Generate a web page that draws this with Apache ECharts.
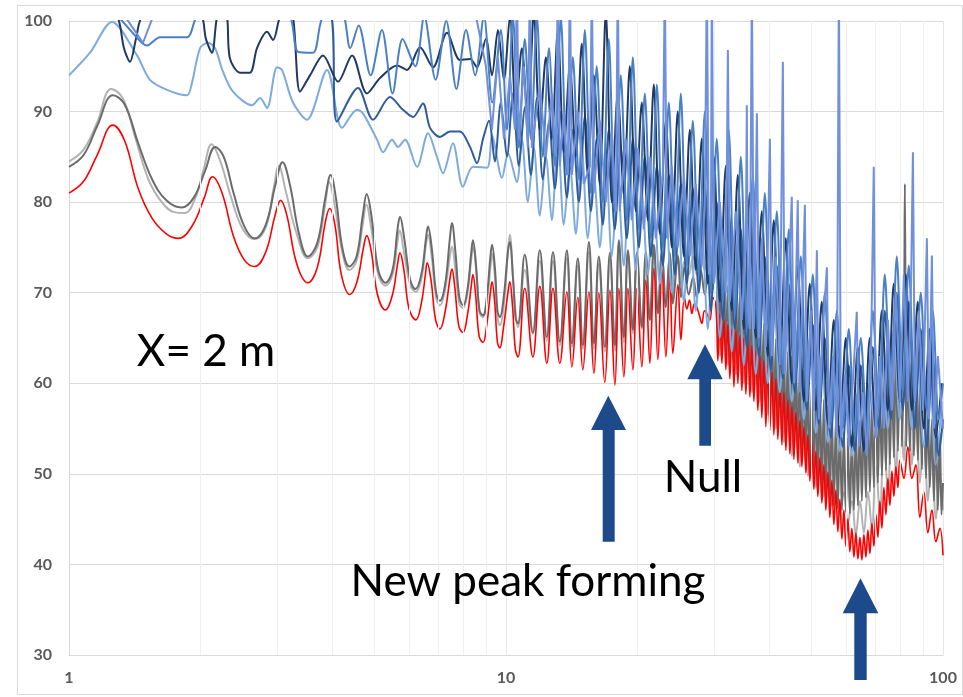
<!DOCTYPE html>
<html><head><meta charset="utf-8">
<script src="https://cdn.jsdelivr.net/npm/echarts@6/dist/echarts.min.js"></script>
<style>html,body{margin:0;padding:0;background:#fff}#c{width:963px;height:697px}</style>
</head><body><div id="c"></div>
<script>
const yTicks = [30, 40, 50, 60, 70, 80, 90, 100];
const xMinorGrid = [2,3,4,5,6,7,8,9,20,30,40,50,60,70,80,90];

const redLine = [
[1.00,81.0],[1.08,82.3],[1.16,85.2],[1.26,88.5],[1.34,86.8],[1.44,81.5],[1.55,78.2],[1.67,76.5],[1.78,76.0],[1.92,77.5],[2.04,80.5],[2.13,82.8],[2.24,81.0],[2.38,76.2],[2.52,73.6],[2.66,72.9],[2.82,74.5],[2.96,78.5],[3.05,80.2],[3.15,78.6],[3.32,73.2],[3.52,71.1],[3.70,72.8],[3.86,77.8],[3.95,79.3],[4.06,77.5],[4.20,72.0],[4.39,69.8],[4.56,71.2],[4.72,75.0],[4.80,76.3],[4.92,74.5],[5.08,69.8],[5.30,68.1],[5.50,69.8],[5.64,73.0],[5.72,74.4],[5.84,72.5],[6.00,68.2],[6.22,67.0],[6.40,68.8],[6.54,72.0],[6.60,73.3],[6.74,71.3],[6.90,67.0],[7.06,66.0],[7.25,67.8],[7.44,71.5],[7.52,72.6],[7.64,70.5],[7.80,66.3],[7.97,65.6],[8.16,67.5],[8.33,70.8],[8.40,72.0],[8.52,69.8],[8.68,65.2],[8.86,64.5],[9.04,66.5],[9.21,70.0],[9.29,71.2],[9.42,69.0],[9.56,64.5],[9.68,63.9],[9.86,66.0],[10.10,70.0],[10.20,71.2],[10.35,68.5],[10.50,63.8],[10.65,62.9],
[11.04,70.5],[11.52,62.9],[11.95,70.7],[12.40,62.2],[12.81,70.5],[13.28,62.2],[13.78,70.1],[14.15,61.8],[14.60,69.5],[14.99,61.5],[15.48,70.1],[15.89,61.1],[16.31,70.0],[16.83,60.1],[17.29,70.3],[17.75,59.8],[18.13,70.5],[18.61,60.7],[19.01,70.5],[19.52,61.5],[19.93,70.5],[20.46,61.8],[20.89,71.4],[21.34,62.2],[21.80,72.7],[22.26,62.6],[22.74,72.5],[23.22,62.9],[23.71,71.9],[24.09,63.3],[24.74,70.9],[25.13,64.8],[25.60,69.5],[25.93,68.2],[26.30,69.2],[26.63,67.7],[27.00,68.8],[27.34,68.4],[27.70,67.5],[28.07,66.6],[28.45,68.0],[28.82,67.7],[29.28,67.0],[29.75,69.5],
[30.22,68.5],[30.54,62.5],[30.86,67.7],[31.19,62.2],[31.52,67],[31.85,61.5],[32.19,66.5],[32.53,60.5],[32.88,66],[33.23,59.6],[33.58,65.9],[33.93,60],[34.29,65.3],[34.65,59.2],[35.02,65],[35.39,58.8],[35.77,64.8],[36.15,58.5],[36.53,64.2],[36.92,58],[37.31,63.6],[37.70,57],[38.10,63],[38.50,56.2],[38.91,62.5],[39.32,55.2],[39.74,62],[40.16,54.8],[40.59,61.2],[41.02,54.3],[41.45,60.5],[41.89,53.8],[42.34,59.8],[42.79,53.2],[43.24,59],[43.70,52.6],[44.16,58.2],[44.63,52.2],[45.10,57.5],[45.58,51.6],[46.06,56.8],[46.55,51.2],[47.04,55.9],[47.54,50.8],[48.04,55.2],[48.55,50.1],[49.07,54.3],[49.59,49.2],[50.11,53.5],[50.64,48.3],[51.18,52.5],[51.72,47.5],[52.27,51.8],[52.82,46.8],[53.38,51],[53.95,46],[54.52,50.2],[55.10,45.2],[55.68,49.3],[56.27,44.4],[56.87,48.2],[57.47,43.6],[58.08,47.2],[58.70,42.8],[59.32,46],[59.95,42],[60.58,45],[61.22,41.4],[61.87,44],[62.53,40.8],[63.19,43.5],[63.86,40.6],[64.54,43],[65.22,40.5],[65.91,43.3],[66.61,40.8],[67.32,43.8],[68.03,41.2],[68.75,44.5],[69.48,42],[70.21,45.5],[70.96,43],[71.71,47],[72.47,44],[73.24,48.5],[74.02,45.5],[74.80,49.5],[75.59,46.5],[76.39,50.3],[77.20,47.5],[78.02,50.8],[78.85,48.5],[79.68,51.5],
[81.38,49.5],[83.11,53],[84.88,49.5],[86.69,51],[88.54,45.2],[90.42,48],[92.35,43.5],[94.32,46],[96.32,42.5],[98.38,44],[100,41]
];

const grayDark = [
[1.00,83.9],[1.08,85.2],[1.16,88.4],[1.26,91.8],[1.34,90.8],[1.44,86.5],[1.55,82.5],[1.67,80.2],[1.81,79.4],[1.93,80.5],[2.05,83.5],[2.16,86.1],[2.26,85.0],[2.38,81.0],[2.52,77.3],[2.66,76.0],[2.82,77.5],[2.97,82.0],[3.08,84.4],[3.20,82.0],[3.36,76.5],[3.52,74.0],[3.70,75.5],[3.86,80.5],[3.97,83.0],[4.08,80.5],[4.22,75.0],[4.38,72.9],[4.55,74.0],[4.70,78.5],[4.80,80.9],[4.92,78.5],[5.10,72.5],[5.30,71.1],[5.50,72.5],[5.64,76.8],[5.72,78.4],[5.85,76.0],[6.03,71.5],[6.20,70.4],[6.40,72.0],[6.56,76.0],[6.63,77.3],[6.76,75.0],[6.92,70.0],[7.05,69.1],[7.25,70.8],[7.44,76.0],[7.52,77.7],[7.66,74.5],[7.82,69.5],[7.98,68.6],[8.16,70.3],[8.33,74.5],[8.40,75.8],[8.54,73.0],[8.70,68.0],[8.86,67.5],[9.04,69.5],[9.21,74.0],[9.29,75.3],[9.44,72.5],[9.56,68.0],[9.68,67.3],[9.88,69.5],[10.10,74.5],[10.20,75.6],[10.38,71.5],[10.52,67.2],[10.65,66.6],
[11.04,74.2],[11.52,65.6],[11.95,74.7],[12.40,65.1],[12.81,74.5],[13.28,64.6],[13.78,74.7],[14.15,64.4],[14.60,73.8],[14.99,64.2],[15.48,75.6],[15.89,64.4],[16.31,74.0],[16.83,64.0],[17.29,74.4],[17.75,64.2],[18.13,75.8],[18.61,65.1],[19.01,74.7],[19.52,65.9],[19.93,74.4],[20.46,66.2],[20.89,74.5],[21.34,67.0],[21.80,75.3],[22.26,67.7],[22.74,74.5],[23.22,68.4],[23.71,74.4],[24.09,68.8],[24.74,74.0],[25.13,69.5],[25.60,72.8],[26.20,69.8],[26.80,71.7],[27.30,69.5],[27.90,72.5],[28.50,69.8],[29.10,73.3],[29.60,70.0],
[30.22,73.5],[30.54,65],[30.86,71.4],[31.19,64],[31.52,71],[31.85,63.5],[32.19,70.8],[32.53,62.8],[32.88,70.6],[33.23,62.2],[33.58,70.4],[33.93,61.8],[34.29,70],[34.65,61.5],[35.02,69.8],[35.39,61],[35.77,69.5],[36.15,60.4],[36.53,69],[36.92,59.8],[37.31,68.2],[37.70,59],[38.10,67.5],[38.50,58.2],[38.91,66.6],[39.32,57.2],[39.74,65.9],[40.16,56.5],[40.59,65.4],[41.02,55.8],[41.45,64.9],[41.89,55],[42.34,64.5],[42.79,54.2],[43.24,64],[43.70,53.5],[44.16,63.5],[44.63,53],[45.10,63],[45.58,52.4],[46.06,62.6],[46.55,51.8],[47.04,62.2],[47.54,51.2],[48.04,61.5],[48.55,50.5],[49.07,60.8],[49.59,49.8],[50.11,60.2],[50.64,49.2],[51.18,59.5],[51.72,48.5],[52.27,58.8],[52.82,48],[53.38,58.2],[53.95,47.5],[54.52,57.5],[55.10,47],[55.68,56.8],[56.27,46.5],[56.87,56],[57.47,46.2],[58.08,55.3],[58.70,46],[59.32,54.6],[59.95,45.8],[60.58,54],[61.22,45.6],[61.87,54.2],[62.53,46],[63.19,55],[63.86,46.5],[64.54,55.8],[65.22,47],[65.91,56.8],[66.61,47.4],[67.32,57.5],[68.03,48],[68.75,58],[69.48,48.5],[70.21,58.3],[70.96,49],[71.71,59.5],[72.47,49.8],[73.24,60.5],[74.02,50.4],[74.80,61.5],[75.59,51],[76.39,62.5],[77.20,51.8],[78.02,63.5],[78.85,52.5],[79.68,65],[80.53,53],[81.38,64],[81.81,82],[82.4,53],[83.11,62],[84.0,52.5],[84.88,63],[85.8,52],[86.69,61],[87.6,51.5],[88.54,60],[89.5,50.5],[90.42,58.5],[91.4,49.5],[92.35,57],[93.3,48.5],[94.32,56],[95.3,47],[96.32,55.5],[97.3,46],[98.38,54.5],[99.2,45.5],[100,49]
];

const grayLight = [
[1.00,84.5],[1.08,85.8],[1.16,88.8],[1.25,92.5],[1.33,91.4],[1.42,87.0],[1.52,82.5],[1.63,80.0],[1.74,78.9],[1.84,78.8],[1.94,80.3],[2.03,83.5],[2.12,86.4],[2.22,84.5],[2.35,80.5],[2.50,77.0],[2.66,75.9],[2.82,77.2],[2.94,81.5],[3.02,84.0],[3.14,81.0],[3.32,76.5],[3.52,73.8],[3.70,75.0],[3.85,79.5],[3.94,82.2],[4.06,79.5],[4.22,74.5],[4.38,72.5],[4.55,73.5],[4.70,77.5],[4.79,79.7],[4.92,77.0],[5.10,72.0],[5.30,70.8],[5.50,72.0],[5.64,75.5],[5.71,76.9],[5.84,74.5],[6.04,70.8],[6.22,70.1],[6.40,71.5],[6.56,75.3],[6.63,76.4],[6.76,74.0],[6.92,69.5],[7.06,68.6],[7.25,70.3],[7.44,74.0],[7.52,75.1],[7.66,72.5],[7.82,68.8],[7.97,68.3],[8.16,70.0],[8.35,74.2],[8.42,75.0],[8.56,72.0],[8.70,67.8],[8.86,67.3],[9.04,69.0],[9.22,73.0],[9.29,74.3],[9.44,71.5],[9.58,67.0],[9.68,66.4],[9.88,68.5],[10.12,75.0],[10.20,76.4],[10.40,71.0],[10.65,66.2],
[11.04,72.5],[11.52,65.5],[11.95,73.5],[12.40,64.7],[12.81,73.5],[13.28,64.2],[13.78,73.8],[14.15,64.0],[14.60,73.0],[14.99,63.8],[15.48,74.5],[15.89,63.8],[16.31,73.2],[16.83,63.5],[17.29,73.8],[17.75,63.6],[18.13,75.0],[18.61,64.5],[19.01,74.3],[19.52,65.5],[19.93,74.0],[20.46,66.0],[20.89,74.0],[21.34,67.0],[21.80,74.8],[22.26,68.0],[22.74,74.3],[23.22,69.0],[23.71,74.3],[24.09,70.0],[24.74,74.2],[25.13,71.0],[25.60,73.5],[26.20,72.0],[26.80,74.0],[27.30,72.0],[27.90,74.0],[28.50,72.5],[29.10,74.5],[29.60,72.5],
[30.22,73],[30.86,63],[31.52,71],[32.19,62],[32.88,70],[33.58,61],[34.29,69],[35.02,60],[35.77,67.5],[36.53,59],[37.31,66.5],[38.10,58],[38.91,65],[39.74,56.5],[40.59,64],[41.45,55],[42.34,62.5],[43.24,53.5],[44.16,61.5],[45.10,52],[46.06,60],[47.04,50.8],[48.04,59],[49.07,49.8],[50.11,57.5],[51.18,48.5],[52.27,56],[53.38,47.5],[54.52,53.5],[55.68,46.5],[56.87,50.5],[58.08,45.5],[59.32,48],[60.58,44.5],[61.87,47],[63.19,43.3],[64.54,47],[65.91,43.5],[67.32,48],[68.75,44],[70.21,51],[71.71,45.5],[73.24,55],[74.80,47.5],[76.39,58],[78.02,50],[79.68,61],[81.38,51.5],[83.11,60],[84.88,51],[86.69,58],[88.54,49],[90.42,55],[92.35,47],[94.32,53],[96.32,45],[98.38,50],[100,46]
];

const blueNavy = [
[1.20,101.5],[1.29,100.5],[1.336,97],[1.379,95.5],[1.423,98],[1.469,100.5],[1.70,103],[1.995,101],[2.058,98],[2.124,96.5],[2.182,100.5],[2.24,101.5],[2.299,100.5],[2.334,95.9],[2.462,94.3],[2.595,94.3],[2.693,97.0],[2.839,98.8],[2.930,97.9],[3.040,100.5],[3.15,101.5],[3.255,100.5],[3.378,92.2],[3.561,94.0],[3.813,96.2],[4.127,93.3],[4.443,96.2],[4.808,92.0],[5.148,93.7],[5.631,95.1],[5.935,94.6],[6.358,97.1],[6.808,94.9],[7.328,98.7],[7.848,95.7],[8.272,95.8],[8.582,94.9],
[8.996,98],[9.285,94],[9.583,99],[9.890,93.5],[10.21,100.5],[10.53,90],[10.87,97],[11.22,89],[11.58,101],[11.95,88],[12.34,96],[12.73,87],[13.14,99],[13.56,85.5],[14.00,95],[14.45,85],[14.91,97.5],[15.39,83],[15.88,94],[16.39,82],[16.92,101],[17.46,80],[18.02,92],[18.60,81],[19.20,95],[19.82,79],[20.45,91],[21.11,78],[21.79,93],[22.49,76.5],[23.21,89],[23.95,75],[24.72,90],[25.52,74],[26.34,88],[27.18,72.5],[28.05,87],[28.96,71],[29.89,85],[30.85,69],[31.84,84],[32.86,68],[33.92,83],[35.01,66],[36.13,81],[37.29,65],[38.49,79],[39.72,63],[41.00,78],[42.31,62],[43.67,76],[45.08,60],[46.52,73],[48.02,58],[49.56,71],[51.15,57],[52.79,69],[54.49,55.5],[56.24,67],[58.04,54],[59.91,65],[61.83,53],[63.82,64],[65.86,52.5],[67.98,65],[70.16,55],[72.42,68],[74.74,57],[77.14,71],[79.62,58],[82.18,72],[84.81,57],[87.54,69],[90.35,55],[93.25,66],[96.24,54],[99.33,60]
];

const blueSteel = [
[1.0,104],[2.0,103],[3.0,101.5],[3.956,101],[4.105,88.9],[4.585,92.6],[4.962,89.1],[5.427,91.6],[5.811,90.2],[6.127,89.4],[6.458,90.9],[6.701,88.2],[7.063,87.2],[7.444,87.8],[7.848,87.8],[8.272,86.1],[8.582,84.3],[8.85,86.9],
[9.14,89],[9.43,84.5],[9.73,91],[10.05,85],[10.37,92],[10.70,84],[11.04,90.5],[11.40,83],[11.77,91.5],[12.14,82.5],[12.54,89],[12.94,81.5],[13.35,90],[13.78,80.5],[14.22,88],[14.68,80],[15.15,89.5],[15.64,79],[16.13,87],[16.65,77.5],[17.19,88],[17.74,77],[18.31,86],[18.90,76],[19.51,87],[20.14,75],[20.78,85],[21.45,74],[22.14,84],[22.85,73],[23.58,83],[24.34,72],[25.12,82],[25.93,71],[26.76,81.5],[27.62,70],[28.50,82],[29.42,68],[30.36,80],[31.34,67],[32.35,79],[33.39,66],[34.46,77],[35.57,64],[36.71,76],[37.89,63],[39.11,74],[40.36,61.5],[41.66,73],[43.00,60.5],[44.38,71],[45.80,59],[47.27,68],[48.79,57],[50.36,66.5],[51.97,55.5],[53.64,65],[55.36,54],[57.14,63.5],[58.97,53],[60.87,62],[62.82,52.5],[64.84,62],[66.92,53],[69.07,64],[71.29,55],[73.58,68],[75.94,56],[78.38,70],[80.90,57],[83.50,69],[86.18,55],[88.94,66],[91.80,53],[94.75,63],[97.79,52],[100,56]
];

const blueLight = [
[1.0,94.0],[1.117,96.5],[1.254,99.9],[1.431,96.2],[1.532,93.5],[1.676,92.4],[1.862,91.8],[1.912,93.2],[1.995,97.0],[2.080,97.6],[2.159,97.0],[2.251,94.4],[2.373,92.2],[2.623,90.7],[2.736,91.5],[2.839,90.4],[2.992,94.9],[3.072,94.6],[3.255,91.0],[3.504,89.1],[3.894,94.6],[4.215,88.2],[4.560,90.2],[4.706,89.8],[5.068,86.9],[5.231,85.5],[5.484,86.9],[5.660,86.1],[5.873,86.9],[6.257,83.9],[6.631,87.6],[6.951,85.0],[7.174,83.2],[7.561,86.5],[7.969,81.7],[8.403,83.9],[9.048,83.8],[9.285,87.4],[9.790,82.7],[10.11,85.4],[10.59,82.2],
[10.87,87],[11.22,80],[11.58,86],[11.95,78.5],[12.34,85],[12.73,78],[13.14,87.5],[13.56,77.5],[14.00,84],[14.45,76.5],[14.91,86],[15.39,76],[15.88,83],[16.39,75],[16.92,85],[17.46,74],[18.02,82],[18.60,73],[19.20,84],[19.82,72.5],[20.45,81],[21.11,72],[21.79,80],[22.49,71],[23.21,79],[23.95,70],[24.72,80],[25.52,69],[26.34,78],[27.18,68],[28.05,77],[28.96,66],[29.89,78],[30.85,65],[31.84,75],[32.86,63.5],[33.92,76],[35.01,62],[36.13,73],[37.29,61],[38.49,71],[39.72,60],[41.00,70],[42.31,59],[43.67,68],[45.08,58],[46.52,66],[48.02,56],[49.56,65],[51.15,54.5],[52.79,63],[54.49,53.5],[56.24,61],[58.04,52.5],[59.91,60],[61.83,52],[63.82,59],[65.86,52.5],[67.98,60],[70.16,54],[72.42,63],[74.74,55],[77.14,66],[79.62,56],[82.18,65],[84.81,55],[87.54,63],[90.35,53],[93.25,61],[96.24,51],[99.33,58]
];

const blueMedium = [
[1.0,106],[1.2,102],[1.295,100.5],[1.454,97.8],[1.508,97.3],[1.615,98.2],[1.862,98.2],[1.963,100.5],[2.4,104],[2.9,102],[3.204,100.5],[3.342,96.6],[3.618,96.5],[3.813,100.5],[4.2,101],[4.4,97],[4.6,99.5],[4.9,94],[5.2,99],[5.5,92],[5.8,98],[6.2,95],[6.5,100.5],[6.9,93.5],[7.3,100],[7.7,92.5],[8.1,99],[8.5,94],[8.9,100.5],[9.3,91],
[9.73,99],[10.05,88],[10.37,100.5],[10.70,86],[11.04,98],[11.40,87],[11.77,100.5],[12.14,85],[12.54,97],[12.94,84],[13.35,100.5],[13.78,83],[14.22,96],[14.68,82.5],[15.15,99],[15.64,81],[16.13,95],[16.65,80],[17.19,98],[17.74,79],[18.31,94],[18.90,78],[19.51,96],[20.14,77],[20.78,92],[21.45,76],[22.14,93],[22.85,75],[23.58,91],[24.34,74],[25.12,92],[25.93,73],[26.76,89],[27.62,72],[28.50,90],[29.42,70],[30.36,87],[31.34,69],[32.35,88],[33.39,67.5],[34.46,85],[35.57,66],[36.71,83],[37.89,64],[39.11,81],[40.36,63],[41.66,79],[43.00,61],[44.38,77],[45.80,60],[47.27,74],[48.79,58],[50.36,72],[51.97,57],[53.64,70],[55.36,55.5],[57.14,68],[58.97,55],[60.87,66],[62.82,54],[64.84,65],[66.92,55],[69.07,68],[71.29,57],[73.58,72],[75.94,58],[78.38,74],[80.90,59],[83.50,73],[86.18,58],[88.94,70],[91.80,57],[94.75,68],[97.79,56],[100,60]
];

const bluePeri = [
[1.0,108],[1.30,101],[1.343,100.5],[1.477,97.6],[1.557,100.5],[1.7,104],[3,106],[5,104],[7,102],[8.5,101],
[8.996,95],[9.285,88],[9.583,96],[9.890,87],[10.21,94],[10.48,88],[10.59,105],[10.70,87],[10.99,95],[11.22,86],[11.34,105],[11.46,86],[11.95,93],[12.34,85],[12.73,92],[13.00,85],[13.14,105],[13.28,84],[13.56,90],[13.85,83],[14.00,105],[14.15,83],[14.60,90],[15.07,82],[15.56,84],[15.72,105],[15.88,81],[16.39,89],[16.92,80],[17.46,88],[17.84,79],[18.02,105],[18.21,79],[18.80,87],[19.40,78],[20.03,86],[20.67,77],[21.34,85],[22.02,76],[22.85,83],[23.09,105],[23.34,76],[23.95,84],[24.72,75],[25.52,83],[26.34,74],[27.18,82],[28.05,73],[28.50,80],[28.82,105],[29.13,72],[29.44,78],[29.58,105],[29.89,71],[30.85,80],[31.84,70],[32.19,96.8],[32.53,69],[33.57,79],[34.65,67],[35.39,76],[35.57,90.7],[35.77,68],[36.13,66],[36.53,105],[36.91,66],[37.51,89.8],[37.91,65],[38.49,76],[39.33,64],[40.17,87],[40.59,63],[41.45,74],[42.31,62],[43.00,95.5],[43.45,61],[44.38,72],[45.08,80.6],[45.56,60],[46.52,80.2],[47.04,59],[48.30,79.7],[48.79,58],[49.85,68],[50.64,57],[51.45,74.7],[52.00,56],[53.11,66],[54.24,72.8],[54.82,55],[55.98,63],[57.14,54],[57.78,105],[58.39,54],[59.63,61],[60.87,53],[62.17,60],[63.49,67.9],[64.20,53],[65.57,59],[66.92,52],[68.34,61],[69.43,83.9],[70.16,54],[71.71,63],[73.24,55],[74.80,67],[76.39,57],[78.02,70],[79.68,58],[81.38,72],[83.11,58],[84.45,70],[85.34,85.5],[86.24,58],[88.07,68],[89.94,57],[91.86,76],[92.84,56],[94.32,74.1],[95.32,55],[97.34,63],[100,55]
];

function line(name, data, color, width, smooth, z) {
  return {
    name: name, type: 'line', data: data, showSymbol: false, symbol: 'none',
    smooth: smooth, clip: true, z: z,
    lineStyle: { color: color, width: width }, itemStyle: { color: color },
    silent: true, animation: false
  };
}

const chart = echarts.init(document.getElementById('c'), null, { renderer: 'canvas' });
const labelStyle = { color: '#595959', fontWeight: 'bold', fontSize: 16, fontFamily: 'Lato' };
const arrowColor = '#1c4a8a';

chart.setOption({
  animation: false,
  backgroundColor: '#ffffff',
  grid: { left: 69, right: 20, top: 21, bottom: 42, containLabel: false },
  xAxis: {
    type: 'log', logBase: 10, min: 1, max: 100,
    axisLine: { show: true, lineStyle: { color: '#d9d9d9', width: 1 } },
    axisTick: { show: false },
    splitLine: { show: true, lineStyle: { color: '#e6e6e6', width: 1 } },
    axisLabel: Object.assign({ margin: 15 }, labelStyle)
  },
  yAxis: {
    type: 'value', min: yTicks[0], max: yTicks[yTicks.length - 1], interval: 10,
    axisLine: { show: true, lineStyle: { color: '#d9d9d9', width: 1 } },
    axisTick: { show: false },
    splitLine: { show: true, lineStyle: { color: '#d9d9d9', width: 1 } },
    axisLabel: Object.assign({ margin: 17 }, labelStyle)
  },
  series: [
    {
      type: 'line', data: [], z: 0, silent: true,
      markLine: {
        silent: true, symbol: ['none', 'none'], animation: false,
        label: { show: false },
        lineStyle: { color: '#efefef', type: 'solid', width: 1 },
        data: xMinorGrid.map(v => ({ xAxis: v }))
      }
    },
    line('grayLight', grayLight, '#b3b3b3', 2, 0.4, 2),
    line('grayDark', grayDark, '#6b6b6b', 2, 0.4, 3),
    line('red', redLine, '#ff0000', 1.6, 0.4, 4),
    line('blueLight', blueLight, '#7eaadc', 2, 0.3, 5),
    line('blueSteel', blueSteel, '#2f5c9a', 2, 0.3, 6),
    line('blueNavy', blueNavy, '#1f3864', 2, 0.3, 7),
    line('blueMedium', blueMedium, '#4a80c4', 2, 0.3, 8),
    line('bluePeri', bluePeri, '#7090dc', 2, false, 9)
  ],
  graphic: [
    { type: 'rect', silent: true, z: 100,
      shape: { x: 17.5, y: 5.5, width: 945, height: 689 },
      style: { fill: 'none', stroke: '#d9d9d9', lineWidth: 1 } },
    { type: 'text', silent: true, z: 100, x: 206, y: 352,
      style: { text: 'X= 2 m', font: '44px Lato', fill: '#000', textAlign: 'center', textVerticalAlign: 'middle' } },
    { type: 'text', silent: true, z: 100, x: 703, y: 478,
      style: { text: 'Null', font: '44px Lato', fill: '#000', textAlign: 'center', textVerticalAlign: 'middle' } },
    { type: 'text', silent: true, z: 100, x: 528, y: 582,
      style: { text: 'New peak forming', font: '44px Lato', fill: '#000', textAlign: 'center', textVerticalAlign: 'middle' } },
    { type: 'polygon', silent: true, z: 100,
      shape: { points: [[608.3,395.7],[626,430],[614.7,430],[614.7,541.7],[602.7,541.7],[602.7,430],[591,430]] },
      style: { fill: arrowColor } },
    { type: 'polygon', silent: true, z: 100,
      shape: { points: [[705,344.3],[722.7,379.3],[711,379.3],[711,445.7],[699.3,445.7],[699.3,379.3],[687.3,379.3]] },
      style: { fill: arrowColor } },
    { type: 'polygon', silent: true, z: 100,
      shape: { points: [[860.5,578.3],[878.3,613.3],[866.7,613.3],[866.7,680],[854.3,680],[854.3,613.3],[842.7,613.3]] },
      style: { fill: arrowColor } }
  ]
});
</script>
</body></html>
